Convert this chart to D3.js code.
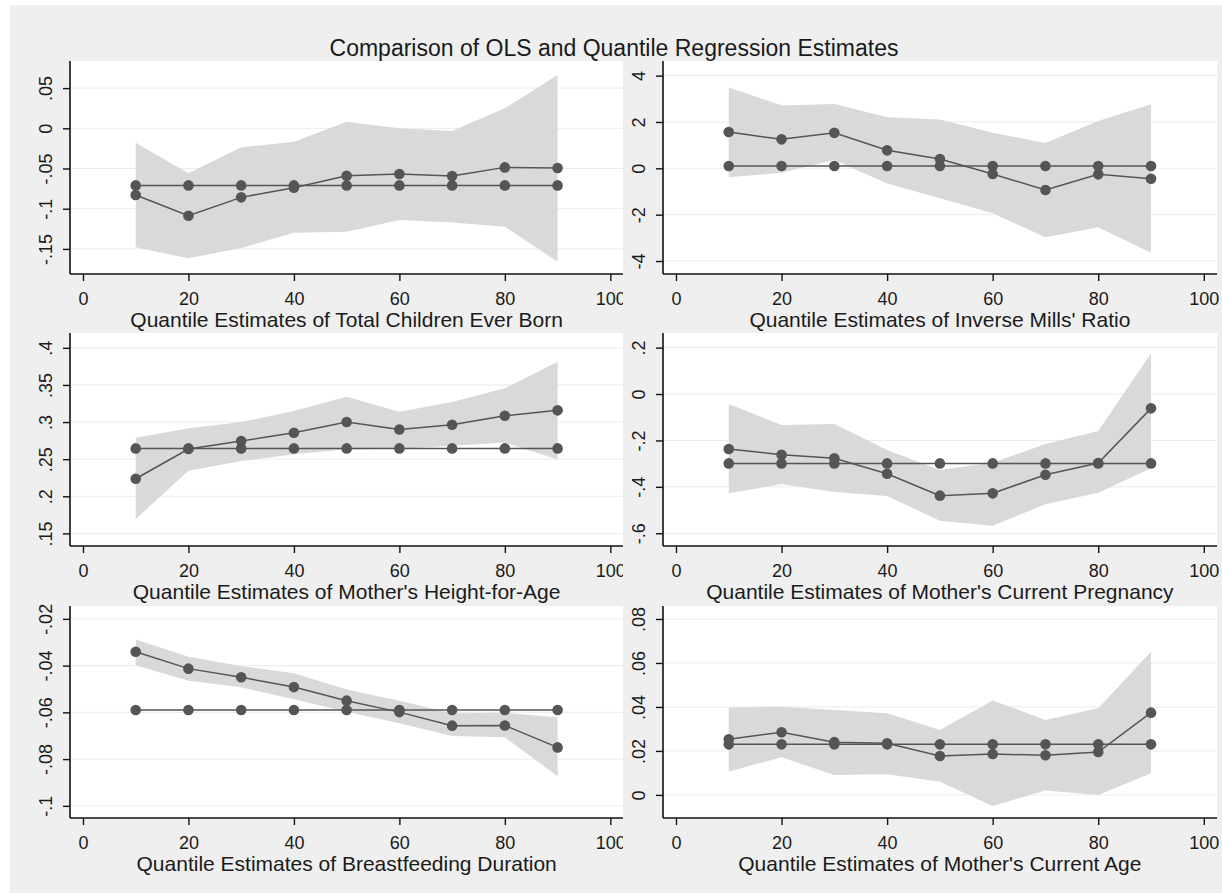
<!DOCTYPE html>
<html lang="en">
<head>
<meta charset="UTF-8">
<title>Comparison of OLS and Quantile Regression Estimates</title>
<script src="https://d3js.org/d3.v7.min.js"></script>
<style>
  body { margin: 0; background: #fff; }
  svg { display: block; }
  text { font-family: 'Liberation Sans', Arial, sans-serif; fill: #1a1a1a; }
  .grid line { stroke: #ebebeb; stroke-width: 1; }
  .axis path, .axis line { stroke: #111; }
  .band { fill: #d9d9d9; }
  .est { fill: none; stroke: #555; stroke-width: 1.5; }
  .dot { fill: #555; }
</style>
</head>
<body>
<svg id="fig" width="1222" height="895"></svg>
<script>
// quantiles shared by every panel
const quantiles = [10, 20, 30, 40, 50, 60, 70, 80, 90];
const xTicks = [0, 20, 40, 60, 80, 100];

// Total Children Ever Born
const childrenOls = [-0.071, -0.071, -0.071, -0.071, -0.071, -0.071, -0.071, -0.071, -0.071];
const childrenQr  = [-0.083, -0.1087, -0.0859, -0.0738, -0.059, -0.0568, -0.0593, -0.0486, -0.0494];
const childrenHi  = [-0.018, -0.056, -0.0236, -0.0166, 0.0082, 0.0, -0.0034, 0.0249, 0.0663];
const childrenLo  = [-0.148, -0.1617, -0.149, -0.1298, -0.1286, -0.114, -0.117, -0.1224, -0.166];
const childrenTicks = [0.05, 0, -0.05, -0.1, -0.15];
const childrenTickLabels = [".05", "0", "-.05", "-.1", "-.15"];

// Inverse Mills' Ratio
const millsOls = [0.1, 0.1, 0.1, 0.1, 0.1, 0.1, 0.1, 0.1, 0.1];
const millsQr  = [1.565, 1.25, 1.53, 0.776, 0.4, -0.246, -0.935, -0.26, -0.45];
const millsHi  = [3.49, 2.71, 2.77, 2.2, 2.11, 1.53, 1.09, 2.04, 2.76];
const millsLo  = [-0.39, -0.19, 0.36, -0.65, -1.29, -1.94, -2.97, -2.54, -3.64];
const millsTicks = [4, 2, 0, -2, -4];
const millsTickLabels = ["4", "2", "0", "-2", "-4"];

// Mother's Height-for-Age
const heightOls = [0.2645, 0.2645, 0.2645, 0.2645, 0.2645, 0.2645, 0.2645, 0.2645, 0.2645];
const heightQr  = [0.2236, 0.2636, 0.2744, 0.2856, 0.300, 0.290, 0.2964, 0.3085, 0.3158];
const heightHi  = [0.2789, 0.2915, 0.300, 0.3148, 0.3341, 0.3139, 0.327, 0.3454, 0.3813];
const heightLo  = [0.1693, 0.2344, 0.2474, 0.2565, 0.2632, 0.2636, 0.268, 0.2726, 0.2497];
const heightTicks = [0.4, 0.35, 0.3, 0.25, 0.2, 0.15];
const heightTickLabels = [".4", ".35", ".3", ".25", ".2", ".15"];

// Mother's Current Pregnancy
const pregOls = [-0.299, -0.299, -0.299, -0.299, -0.299, -0.299, -0.299, -0.299, -0.299];
const pregQr  = [-0.237, -0.2615, -0.277, -0.3434, -0.438, -0.428, -0.3477, -0.2974, -0.0618];
const pregHi  = [-0.0431, -0.1336, -0.1293, -0.2414, -0.3276, -0.296, -0.2155, -0.1595, 0.1753];
const pregLo  = [-0.428, -0.388, -0.4224, -0.4397, -0.546, -0.5675, -0.4755, -0.4253, -0.3204];
const pregTicks = [0.2, 0, -0.2, -0.4, -0.6];
const pregTickLabels = [".2", "0", "-.2", "-.4", "-.6"];

// Breastfeeding Duration
const breastOls = [-0.059, -0.059, -0.059, -0.059, -0.059, -0.059, -0.059, -0.059, -0.059];
const breastQr  = [-0.0341, -0.0413, -0.045, -0.0492, -0.055, -0.0599, -0.0657, -0.0656, -0.075];
const breastHi  = [-0.0288, -0.0362, -0.0402, -0.0433, -0.0502, -0.055, -0.0604, -0.0602, -0.0621];
const breastLo  = [-0.0398, -0.0465, -0.0493, -0.0544, -0.0597, -0.0647, -0.0701, -0.0707, -0.0873];
const breastTicks = [-0.02, -0.04, -0.06, -0.08, -0.1];
const breastTickLabels = ["-.02", "-.04", "-.06", "-.08", "-.1"];

// Mother's Current Age
const ageOls = [0.023, 0.023, 0.023, 0.023, 0.023, 0.023, 0.023, 0.023, 0.023];
const ageQr  = [0.0253, 0.0285, 0.024, 0.0235, 0.0177, 0.0186, 0.018, 0.0195, 0.0374];
const ageHi  = [0.0397, 0.0401, 0.0386, 0.0371, 0.0295, 0.0429, 0.0341, 0.0394, 0.0651];
const ageLo  = [0.0106, 0.0171, 0.0091, 0.0094, 0.006, -0.005, 0.002, 0.0, 0.0099];
const ageTicks = [0.08, 0.06, 0.04, 0.02, 0];
const ageTickLabels = [".08", ".06", ".04", ".02", "0"];

const svg = d3.select("#fig");

// outer grey frame
svg.append("rect").attr("x", 10).attr("y", 5).attr("width", 1212).attr("height", 888).attr("fill", "#efefef");

const cols = [{left: 70, right: 623.5}, {left: 663, right: 1217}];
const rows = [{top: 61, bottom: 274}, {top: 333, bottom: 546}, {top: 606, bottom: 818}];

function createPanel(col, row, ols, qr, lo, hi, yDomain, ticks, tickLabels, title) {
  const c = cols[col], r = rows[row];

  // right-hand panels paint their own grey box, hiding the neighbour's last tick label
  if (col === 1) {
    svg.append("rect").attr("x", 623).attr("y", r.top).attr("width", 599)
      .attr("height", r.bottom - r.top + 40).attr("fill", "#efefef");
  }

  const x = d3.scaleLinear().domain([-2.46, 102.5]).range([c.left, c.right]);
  const y = d3.scaleLinear().domain(yDomain).range([r.bottom, r.top]);

  svg.append("rect").attr("x", c.left).attr("y", r.top)
    .attr("width", c.right - c.left).attr("height", r.bottom - r.top).attr("fill", "#fff");

  svg.append("g").attr("class", "grid")
    .selectAll("line").data(ticks).join("line")
    .attr("x1", c.left).attr("x2", c.right)
    .attr("y1", d => y(d)).attr("y2", d => y(d));

  const rowsData = quantiles.map((q, i) => ({q, ols: ols[i], qr: qr[i], lo: lo[i], hi: hi[i]}));

  svg.append("path").datum(rowsData).attr("class", "band")
    .attr("d", d3.area().x(d => x(d.q)).y0(d => y(d.lo)).y1(d => y(d.hi)));

  ["qr", "ols"].forEach(key => {
    svg.append("path").datum(rowsData).attr("class", "est")
      .attr("d", d3.line().x(d => x(d.q)).y(d => y(d[key])));
    svg.append("g").selectAll("circle").data(rowsData).join("circle")
      .attr("class", "dot").attr("cx", d => x(d.q)).attr("cy", d => y(d[key])).attr("r", 5.3);
  });

  const xAxis = svg.append("g").attr("class", "axis")
    .attr("transform", `translate(0,${r.bottom})`)
    .call(d3.axisBottom(x).tickValues(xTicks).tickSize(7).tickPadding(11).tickSizeOuter(0));
  xAxis.select(".domain").attr("d", `M${c.left},0H${c.right}`).attr("stroke-width", 1.6);
  xAxis.selectAll(".tick line").attr("stroke-width", 1.4);
  xAxis.selectAll("text").attr("font-size", 18).style("font-family", "'Liberation Sans', Arial, sans-serif").attr("fill", "#1a1a1a");

  const yAxis = svg.append("g").attr("class", "axis")
    .attr("transform", `translate(${c.left},0)`)
    .call(d3.axisLeft(y).tickValues(ticks).tickFormat((d, i) => tickLabels[i]).tickSize(7).tickSizeOuter(0));
  yAxis.select(".domain").attr("d", `M0,${r.top}V${r.bottom}`).attr("stroke-width", 1.6);
  yAxis.selectAll(".tick line").attr("stroke-width", 1.4);
  yAxis.selectAll("text")
    .attr("x", 0).attr("dy", null)
    .attr("transform", "translate(-24,0) rotate(-90)")
    .attr("text-anchor", "middle").attr("dominant-baseline", "central")
    .attr("font-size", 18).style("font-family", "'Liberation Sans', Arial, sans-serif").attr("fill", "#1a1a1a");

  svg.append("text")
    .attr("x", (x(0) + x(100)) / 2).attr("y", r.bottom + 45)
    .attr("text-anchor", "middle").attr("dominant-baseline", "central")
    .attr("font-size", 21).text(title);
}

createPanel(0, 0, childrenOls, childrenQr, childrenLo, childrenHi, [-0.1812, 0.0837], childrenTicks, childrenTickLabels,
  "Quantile Estimates of Total Children Ever Born");
createPanel(1, 0, millsOls, millsQr, millsLo, millsHi, [-4.56, 4.63], millsTicks, millsTickLabels,
  "Quantile Estimates of Inverse Mills' Ratio");
createPanel(0, 1, heightOls, heightQr, heightLo, heightHi, [0.133, 0.42], heightTicks, heightTickLabels,
  "Quantile Estimates of Mother's Height-for-Age");
createPanel(1, 1, pregOls, pregQr, pregLo, pregHi, [-0.655, 0.263], pregTicks, pregTickLabels,
  "Quantile Estimates of Mother's Current Pregnancy");
createPanel(0, 2, breastOls, breastQr, breastLo, breastHi, [-0.1052, -0.0145], breastTicks, breastTickLabels,
  "Quantile Estimates of Breastfeeding Duration");
createPanel(1, 2, ageOls, ageQr, ageLo, ageHi, [-0.0105, 0.0859], ageTicks, ageTickLabels,
  "Quantile Estimates of Mother's Current Age");

svg.append("text")
  .attr("x", 614).attr("y", 48)
  .attr("text-anchor", "middle").attr("dominant-baseline", "central")
  .attr("font-size", 23).text("Comparison of OLS and Quantile Regression Estimates");
</script>
</body>
</html>
